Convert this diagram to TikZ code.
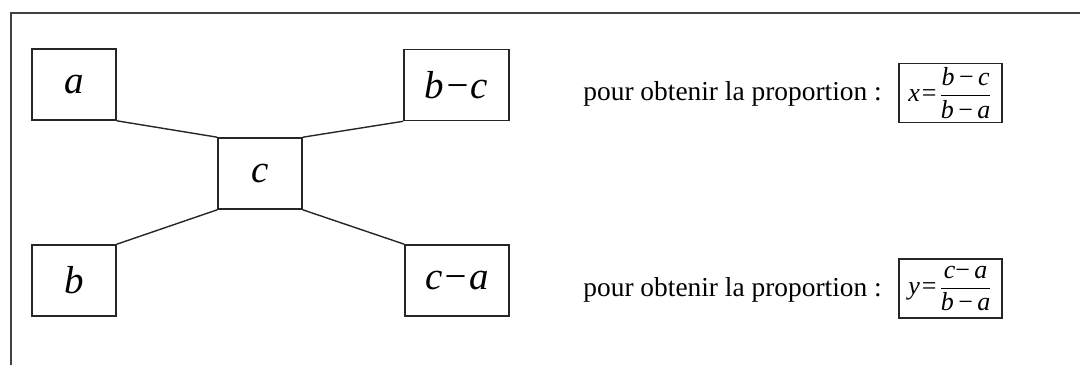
\documentclass[tikz,border=0pt]{standalone}
\usepackage{amsmath}
\usepackage{fontspec}
\setmainfont{Liberation Serif}
\begin{document}
\begin{tikzpicture}[x=0.5pt,y=-0.5pt,
  box/.style={draw=black!85, line width=0.8pt, inner sep=0pt, minimum height=35.5pt, font=\fontsize{19.5}{22}\selectfont\itshape},
  conn/.style={draw=black!85, line width=0.7pt},
  lbl/.style={anchor=base west, inner sep=0pt, font=\fontsize{13.7}{16}\selectfont},
  fbox/.style={draw=black!85, line width=0.8pt, inner sep=1pt, minimum width=51.5pt, minimum height=29.5pt, font=\fontsize{13}{15}\selectfont}]
\useasboundingbox (0,0) rectangle (1080,365);
\draw[line width=0.9pt, black!75] (11,365) -- (11,13) -- (1080,13);
\node[box, minimum width=42pt] (a) at (74,84.5) {a};
\node[box, minimum width=52.5pt] (bc) at (456.5,85) {b−c};
\node[box, minimum width=42pt] (c) at (260,173.5) {c};
\node[box, minimum width=42pt] (b) at (74,280.5) {b};
\node[box, minimum width=52pt] (ca) at (457,280.5) {c−a};
\draw[conn] (a.south east) -- (c.north west);
\draw[conn] (bc.south west) -- (c.north east);
\draw[conn] (c.south west) -- (b.north east);
\draw[conn] (c.south east) -- (ca.north west);
\node[lbl] (t1) at (583,100) {pour obtenir la proportion :};
\node[lbl] (t2) at (583,296) {pour obtenir la proportion :};
\node[fbox] (f1) at (950.5,93) {\textit{x}\kern1pt=\kern1pt$\dfrac{\mbox{\textit{b}\,−\,\textit{c}}}{\mbox{\textit{b}\,−\,\textit{a}}}$};
\node[fbox] (f2) at (950.5,288.5) {\textit{y}\kern1pt=\kern1pt$\dfrac{\mbox{\textit{c}−\,\textit{a}}}{\mbox{\textit{b}\,−\,\textit{a}}}$};
\end{tikzpicture}
\end{document}
